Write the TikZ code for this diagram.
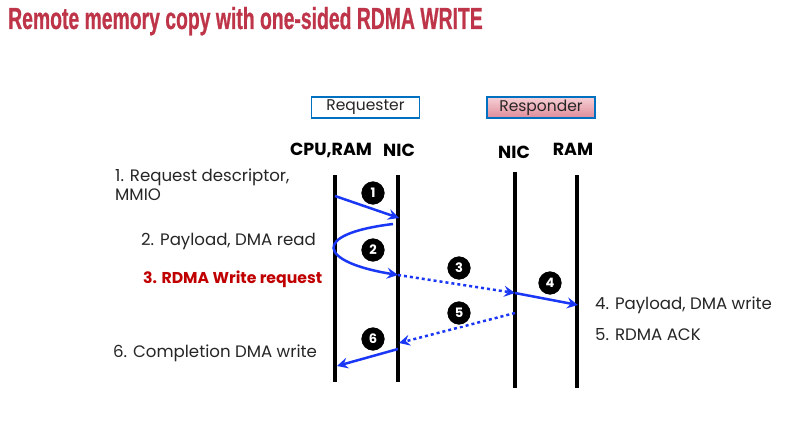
\documentclass[tikz,border=0pt]{standalone}
\usepackage{fontspec}
\setmainfont{Poppins}
\newfontfamily\titlefont[FakeStretch=0.635,FakeBold=0.6]{Liberation Sans}
\usetikzlibrary{arrows.meta,positioning}
\definecolor{titlered}{RGB}{190,52,72}
\definecolor{flowblue}{RGB}{25,55,245}
\definecolor{boxblue}{RGB}{0,112,192}
\definecolor{stepred}{RGB}{192,0,0}
\definecolor{pinktop}{RGB}{247,208,214}
\definecolor{pinkbot}{RGB}{222,140,154}
\tikzset{
  lifeline/.style={line width=4pt},
  msg/.style={flowblue,line width=2.5pt,-{Stealth[length=11pt,width=11pt,inset=4pt]}},
  dotmsg/.style={msg,dash pattern=on 3pt off 3pt},
  badge/.style={circle,fill=black,draw=white,line width=1.5pt,minimum size=25pt,inner sep=0pt,
    text=white,font=\bfseries\fontsize{13}{13}\selectfont},
  role/.style={draw=boxblue,line width=1.8pt,minimum width=108pt,minimum height=21pt,inner sep=0pt,
    text=black!85,font=\fontsize{15.5}{15.5}\selectfont},
  head/.style={font=\bfseries\fontsize{17.5}{17.5}\selectfont},
  note/.style={anchor=base west,inner sep=0pt,text=black!85,font=\fontsize{16.6}{19}\selectfont}
}
\begin{document}
\begin{tikzpicture}[x=1pt,y=-1pt]
  \fill[white] (0,0) rectangle (805,420);
  \useasboundingbox (0,0) rectangle (805,420);
  \node[anchor=base west,inner sep=0pt,text=titlered,font=\titlefont\bfseries\fontsize{30.5}{30.5}\selectfont]
    (title) at (8,29) {Remote memory copy with one-sided RDMA WRITE};
  % sides
  \node[role] (req) at (365.5,107.5) {Requester};
  \node[role,top color=pinktop,bottom color=pinkbot] (resp) at (541,107.5) {Responder};
  \node[head] (hcpu) at (331,150) {CPU,RAM};
  \node[head] (hrnic) at (399,150) {NIC};
  \node[head] (hsnic) at (514,152) {NIC};
  \node[head] (hram) at (573,149) {RAM};
  % lifelines
  \foreach \name/\x/\top/\bot in {cpu/335/175/382, rnic/398/175/382, snic/515/172/388, ram/577/175/388}{
    \coordinate (\name-top) at (\x,\top);
    \coordinate (\name-bot) at (\x,\bot);
    \draw[lifeline] (\name-top) -- (\name-bot);
  }
  % message ends
  \coordinate (m1a) at (335,196);
  \coordinate (m1b) at (399,218);
  \coordinate (m2a) at (393,224);
  \coordinate (m2b) at (398,275);
  \coordinate (m3b) at (515,293);
  \coordinate (m4b) at (578,305);
  \coordinate (m5a) at (515,313);
  \coordinate (m5b) at (399,343);
  \coordinate (m6a) at (398,349);
  \coordinate (m6b) at (337,366);
  \draw[msg] (m1a) -- (m1b);
  \draw[msg] (m2a) .. controls (310,234) and (318,262) .. (m2b);
  \draw[dotmsg] (m2b) -- (m3b);
  \draw[msg] (m3b) -- (m4b);
  \draw[dotmsg] (m5a) -- (m5b);
  \draw[msg] (m6a) -- (m6b);
  % step numbers
  \foreach \n/\x/\y in {1/373/193, 2/373/250, 3/459/268, 4/550/283, 5/459/313, 6/373/339}
    \node[badge] (b\n) at (\x,\y) {\n};
  % step texts
  \node[note,align=left] (n1) at (115,200) {1. Request descriptor,\\MMIO};
  \node[note] (n2) at (141,245) {2. Payload, DMA read};
  \node[note,text=stepred,font=\bfseries\fontsize{15.7}{19}\selectfont] (n3) at (143,283) {3. RDMA Write request};
  \node[note] (n4) at (595,309) {4. Payload, DMA write};
  \node[note] (n5) at (595,340) {5. RDMA ACK};
  \node[note] (n6) at (113,357) {6. Completion DMA write};
\end{tikzpicture}
\end{document}
